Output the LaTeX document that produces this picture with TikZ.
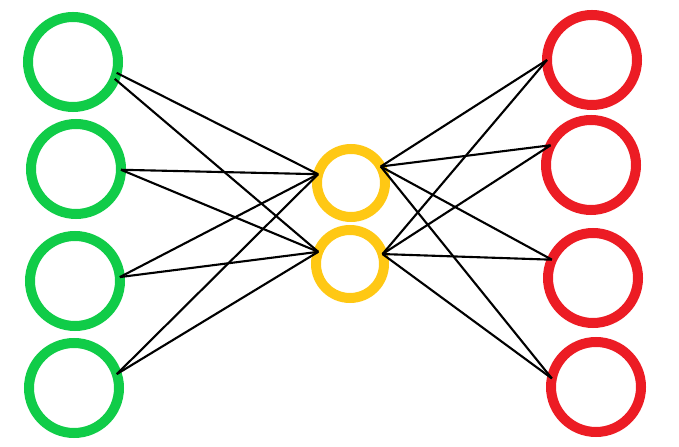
\documentclass[tikz,border=0pt]{standalone}
\usepackage{tikz}
\usetikzlibrary{positioning}
\definecolor{ingreen}{RGB}{16,204,72}
\definecolor{codeyellow}{RGB}{255,200,20}
\definecolor{outred}{RGB}{236,28,36}
\tikzset{
    neuron/.style={circle, draw, line width=0.25cm, minimum size=2.25cm, inner sep=0pt, outer sep=0pt},
    codeneuron/.style={neuron, minimum size=1.7cm},
    link/.style={black, line width=1.5pt}
}

\begin{document}
\begin{tikzpicture}

\useasboundingbox (0,0) rectangle (16.975,11.175);

% Input layer
\node[neuron, ingreen] (g1) at (1.825,9.625) {};
\node[neuron, ingreen] (g2) at (1.9,6.95) {};
\node[neuron, ingreen] (g3) at (1.875,4.15) {};
\node[neuron, ingreen] (g4) at (1.85,1.475) {};

% Code layer
\node[codeneuron, codeyellow] (y1) at (8.775,6.6) {};
\node[codeneuron, codeyellow] (y2) at (8.75,4.575) {};

% Output layer
\node[neuron, outred] (r1) at (14.8,9.675) {};
\node[neuron, outred] (r2) at (14.775,7.05) {};
\node[neuron, outred] (r3) at (14.825,4.225) {};
\node[neuron, outred] (r4) at (14.9,1.5) {};

% Links input -> code
\draw[link] (g1.-14) -- (y1.165);
\draw[link] (g1.-22) -- (y2.159);
\draw[link] (g2.-1) -- (y1.165);
\draw[link] (g2.-1) -- (y2.159);
\draw[link] (g3.5) -- (y1.165);
\draw[link] (g3.5) -- (y2.159);
\draw[link] (g4.18) -- (y1.165);
\draw[link] (g4.18) -- (y2.159);

% Links code -> output
\draw[link] (y1.29) -- (r1.180);
\draw[link] (y1.29) -- (r2.154);
\draw[link] (y1.29) -- (r3.156);
\draw[link] (y1.29) -- (r4.169);
\draw[link] (y2.17) -- (r1.180);
\draw[link] (y2.17) -- (r2.154);
\draw[link] (y2.17) -- (r3.156);
\draw[link] (y2.17) -- (r4.169);

\end{tikzpicture}
\end{document}
